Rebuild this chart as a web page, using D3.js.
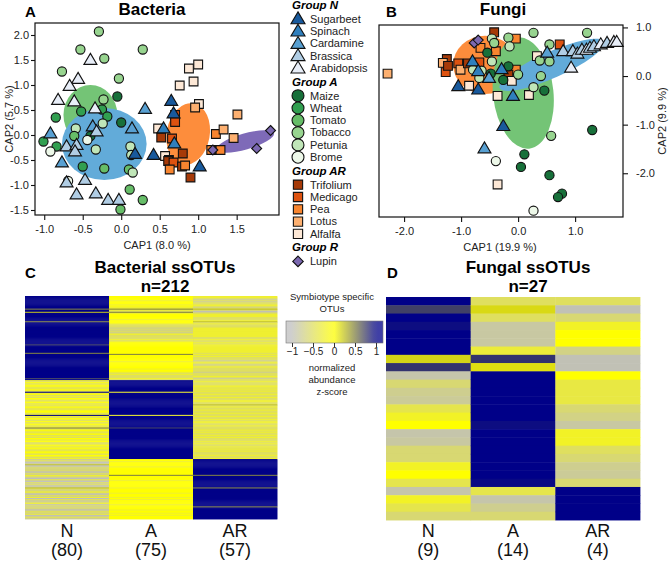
<!DOCTYPE html>
<html><head><meta charset="utf-8">
<script src="https://cdn.jsdelivr.net/npm/d3@7"></script>
<style>body{margin:0;background:#fff} svg{display:block} text{font-family:"Liberation Sans",Arial,Helvetica,sans-serif}</style>
</head><body><svg id="c" width="669" height="563"></svg>
<script>
// ---------- DATA ----------
const hostCodes = ["SB","SP","CA","BR","AT","MA","WH","TO","TB","PE","BO","TR","ME","PA","LO","AL","LU"];
const hostNames = ["Sugarbeet","Spinach","Cardamine","Brassica","Arabidopsis","Maize","Wheat","Tomato","Tobacco","Petunia","Brome","Trifolium","Medicago","Pea","Lotus","Alfalfa","Lupin"];
const hostGroup = ["N","N","N","N","N","A","A","A","A","A","A","AR","AR","AR","AR","AR","R"];
const hostFill = ["#18599c","#2f7fbd","#58a0d2","#b0cde4","#e8eef8",
                  "#17703a","#319f50","#66bd68","#97d48f","#c0e6b8","#edf8e9",
                  "#a63a08","#dd5210","#f8852f","#fdb070","#fde8d6","#7b68b0"];
const groupKeys = ["N","A","AR","R"];
const groupLabels = ["Group N","Group A","Group AR","Group R"];
const groupShape = {N:"triangle",A:"circle",AR:"square",R:"diamond"};
const ellipseFill = {N:"#62abd9",A:"#74c476",AR:"#fd8d3c",R:"#7e6ab8"};

// Panel A (bacteria) points: [host, CAP1, CAP2]
const bactPoints = [
 ["AL",0.88,1.33],["AL",1.00,1.41],["AL",0.94,1.07],["AL",0.76,0.99],["AL",1.01,0.62],["LO",0.96,0.55],["LO",1.51,0.41],
 ["AL",0.48,0.13],["TR",0.52,-0.05],["ME",0.70,0.40],["ME",0.70,0.26],["ME",0.66,-0.07],["PA",1.23,0.02],["LO",1.33,0.11],
 ["LO",1.46,-0.06],["PA",1.17,-0.30],["PA",1.29,-0.30],["AL",0.57,-0.42],["PA",0.62,-0.50],["TR",0.61,-0.52],["TR",0.80,-0.37],
 ["ME",0.68,-0.55],["TR",0.79,-0.63],["PA",0.83,-0.61],["PA",0.63,-0.69],["TR",0.90,-0.85],
 ["TB",-0.29,2.07],["TB",-0.53,1.71],["TB",-0.22,1.53],["TB",0.28,1.71],["TB",-0.77,1.27],["TB",-0.03,1.13],["TB",-0.23,0.71],
 ["MA",-0.05,0.77],["WH",-0.52,0.47],["WH",-0.25,0.51],["WH",-0.85,0.35],["WH",-0.18,0.37],["PE",-0.24,0.23],["MA",0.00,0.25],
 ["PE",-0.59,0.13],["TO",-0.61,-0.02],["MA",-0.40,-0.02],["BO",-0.44,-0.10],["WH",-1.01,-0.13],["WH",-0.84,-0.23],["BO",-0.92,-0.33],
 ["PE",-0.33,-0.29],["PE",0.12,-0.23],["PE",0.13,-0.40],["WH",-0.50,-0.63],["TO",-0.22,-0.67],["TO",0.10,-0.69],["PE",0.15,-0.75],
 ["BO",-0.69,-0.92],["TO",0.11,-1.09],["TO",0.28,-1.30],["TO",-0.01,-1.49],
 ["AT",-0.40,1.50],["AT",-0.56,1.12],["AT",-0.67,0.98],["AT",-0.82,0.70],["AT",-0.61,0.67],["AT",-0.34,0.53],["CA",-0.37,0.17],
 ["BR",-0.32,0.07],["CA",-0.92,0.03],["CA",0.14,0.13],["SB",0.18,-0.38],["CA",0.31,0.52],["SB",0.65,0.68],["SB",0.68,0.43],
 ["SP",0.55,0.13],["SP",0.69,-0.17],["SB",0.42,-0.40],["SB",1.02,-0.63],["BR",-0.71,-0.23],["BR",-0.58,-0.20],["BR",-0.60,-0.33],
 ["CA",-0.77,-0.55],["BR",-0.71,-0.95],["BR",-0.47,-0.90],["BR",-0.58,-1.19],["BR",-0.33,-1.17],["BR",-0.17,-1.30],["BR",-0.03,-1.30],
 ["LU",1.19,-0.30],["LU",1.76,-0.27],["LU",1.94,0.09]
];
// Panel B (fungi) points
const fungiPoints = [
 ["LO",-2.29,0.05],["TR",-0.42,0.90],["PA",-0.04,0.77],["TR",-1.25,0.35],["LO",-1.32,0.27],["ME",-1.27,0.08],["TR",-1.23,0.21],
 ["ME",-1.05,0.26],["LO",-1.01,0.13],["TR",-0.88,0.26],["ME",-0.68,0.28],["PA",-0.66,0.58],["PA",-0.39,0.51],["PA",-0.04,0.13],
 ["TR",-0.17,0.03],["AL",-0.11,-0.10],["AL",-0.86,-0.20],["AL",-0.36,-0.41],["AL",0.19,-0.39],["AL",0.33,0.41],["ME",0.73,0.65],
 ["AL",-0.36,-2.23],
 ["TB",0.27,0.89],["TB",1.21,0.89],["TB",-0.17,0.79],["PE",-0.46,0.77],["TB",-0.42,0.68],["TB",0.55,0.65],["TB",0.38,0.32],
 ["TB",0.55,0.30],["TB",0.40,0.00],["MA",-0.54,0.48],["PE",-0.46,0.30],["PE",-0.79,0.13],["PE",-0.64,0.11],["PE",-0.68,-0.04],
 ["MA",-0.48,0.05],["PE",-0.15,0.61],["MA",-0.17,0.20],["MA",-0.26,-0.08],["TB",0.00,0.03],["PE",0.27,-0.23],["MA",0.46,-0.30],
 ["MA",1.30,-1.11],["TB",0.58,-1.23],["MA",0.11,-1.61],["BO",-0.39,-1.75],["MA",0.05,-1.87],["MA",0.55,-2.04],["MA",0.77,-2.42],
 ["MA",0.70,-2.49],["BO",0.27,-2.77],
 ["SB",-1.05,-0.21],["SB",-0.70,-0.28],["SP",-0.80,0.30],["SP",-0.70,0.10],["CA",-0.51,-0.04],["SP",-0.29,0.14],["SP",-0.09,-0.41],
 ["SB",-0.26,-1.03],["CA",-0.59,-1.49],["CA",0.51,0.48],["BR",0.79,0.51],["AT",0.93,0.17],["BR",0.96,0.51],["BR",1.04,0.46],
 ["BR",1.12,0.54],["AT",1.20,0.54],["BR",1.26,0.58],["BR",1.33,0.61],["AT",1.45,0.65],["BR",1.56,0.68],["AT",1.68,0.70],["AT",1.73,0.70],
 ["LU",-0.77,0.68],["LU",-0.70,0.74]
];
// ellipses: [group, cx, cy, rx, ry (data units), rotation deg]
const bactEllipses = [["AR",0.87,0.02,0.28,0.62,10],["A",-0.40,0.40,0.35,0.60,0],["N",-0.22,-0.18,0.55,0.72,0],["R",1.61,-0.13,0.39,0.16,-16]];
const fungiEllipses = [["AR",-0.58,0.23,0.56,0.60,0],["A",0.09,-0.35,0.53,1.15,-6],["N",0.59,0.23,1.00,0.27,-24]];

const bactXTicks = [-1.0,-0.5,0.0,0.5,1.0,1.5];
const bactYTicks = [-1.5,-1.0,-0.5,0.0,0.5,1.0,1.5,2.0];
const fungiXTicks = [-2.0,-1.0,0.0,1.0];
const fungiYTicks = [-2.0,-1.0,0.0,1.0];

// heatmap levels: digit d -> z = (d-4)/4
const heatColumns = ["N","A","AR"];
const bactCounts = [80,75,57];
const bactN = ["8888888888","8868858888","8888688888","8888888888","8888887888","8888688888","8888888888","8888888878",
 "3242343234","2834232432","3423243234","4238324324","2342362432","3423243342","2342432343","24323",
 "1210150121","2102132102","1021201521","2310213021","1230212102","2130121"].join("");
const bactA = ["4444344434","3363263444","4434443222","1212123222","2323444444","4444464444","4434444443","4432322232",
 "8888888888","8388888888","8888888888","8883888888","8888878888","8888888888","8888888888","88888",
 "4434444344","4444464444","3444444344","4434443434","4443444434","4343444"].join("");
const bactAR = ["3321212233","1252012333","2223523222","3333333332","2322323333","3333232322","2123212322","2212223212",
 "2322233232","3223223223","3225232232","2322322323","3223222323","2232322232","3223232322","23223",
 "8888888888","8888868888","8888888688","8888888888","8888868888","8888888"].join("");
const fungiCounts = [9,14,4];
const fungiN = [1,0.75,1,0.95,1,1,1,0.17,0.8,-0.9,-0.6,-0.75,-0.8,-0.4,-0.2,0,-0.9,-0.85,-0.6,-0.6,-0.2,0,-0.4,-0.9,-0.2,-0.4,-0.6];
const fungiA = [-0.5,0.15,-0.5,-0.85,-0.85,-0.85,-0.3,0.8,0.12,1,1,1,1,1,1,0.95,1,1,1,1,1,1,0.97,-0.4,-0.9,-0.75,-0.6];
const fungiAR = [-0.5,-0.95,-0.6,-0.2,0,0,-0.7,-0.95,-0.95,0,-0.35,-0.35,-0.35,-0.6,-0.7,-0.85,-0.2,-0.2,-0.5,-0.6,-0.75,-0.8,-0.6,1,1,1,1];
const keyTicks = [-1,-0.5,0,0.5,1];

// ---------- DRAW ----------
const svg = d3.select("#c");
const heatColor = d3.scaleLinear().domain([-1,0,1]).range(["#bebebe","#ffff00","#000088"]).clamp(true);
const hostIdx = c => hostCodes.indexOf(c);

function shapePath(shape, k) {
  if (shape==="triangle") { const w=13*k, h=11*k; return `M0,${-h*0.6}L${w/2},${h*0.4}L${-w/2},${h*0.4}Z`; }
  if (shape==="square") { const s=8.8*k/2; return `M${-s},${-s}H${s}V${s}H${-s}Z`; }
  if (shape==="diamond") { const s=5*k; return `M0,${-s}L${s},0L0,${s}L${-s},0Z`; }
  const r=4.6*k; return `M${r},0A${r},${r} 0 1,1 ${-r},0A${r},${r} 0 1,1 ${r},0Z`;
}

function fmt1(d){ return d.toFixed(1); }

function scatter(cfg) {
  const g = svg.append("g");
  const x = d3.scaleLinear().domain(cfg.xd).range([cfg.x0, cfg.x1]);
  const y = d3.scaleLinear().domain(cfg.yd).range([cfg.y1, cfg.y0]);
  cfg.ellipses.forEach(e => {
    const cx = x(e[1]), cy = y(e[2]);
    const rx = Math.abs(x(e[1]+e[3])-cx), ry = Math.abs(y(e[2]+e[4])-cy);
    g.append("ellipse").attr("cx",0).attr("cy",0).attr("rx",rx).attr("ry",ry)
      .attr("transform",`translate(${cx},${cy}) rotate(${e[5]})`).attr("fill",ellipseFill[e[0]]);
  });
  const order = ["AR","A","N","R"];
  order.forEach(gr => {
    cfg.points.filter(p => hostGroup[hostIdx(p[0])]===gr).forEach(p => {
      const i = hostIdx(p[0]);
      g.append("path").attr("d",shapePath(groupShape[gr],1))
        .attr("transform",`translate(${x(p[1])},${y(p[2])})`)
        .attr("fill",hostFill[i]).attr("stroke","#111").attr("stroke-width",1.1);
    });
  });
  g.append("rect").attr("x",cfg.x0).attr("y",cfg.y0).attr("width",cfg.x1-cfg.x0).attr("height",cfg.y1-cfg.y0)
    .attr("fill","none").attr("stroke","#111").attr("stroke-width",1.2);
  const ax = g.append("g").attr("transform",`translate(0,${cfg.y1})`)
    .call(d3.axisBottom(x).tickValues(cfg.xt).tickFormat(fmt1).tickSize(5).tickSizeOuter(0).tickPadding(5));
  const yAx = cfg.yRight ? d3.axisRight(y) : d3.axisLeft(y);
  const ay = g.append("g").attr("transform",`translate(${cfg.yRight?cfg.x1:cfg.x0},0)`)
    .call(yAx.tickValues(cfg.yt).tickFormat(fmt1).tickSize(cfg.yRight?5:4).tickSizeOuter(0).tickPadding(cfg.yRight?8:2));
  [ax,ay].forEach(a => { a.select(".domain").remove();
    a.selectAll("line").attr("stroke","#111").attr("stroke-width",1.1);
    a.selectAll("text").attr("font-size",11).attr("fill","#222").attr("font-family",'"Liberation Sans",Arial,sans-serif'); });
  g.append("text").attr("x",cfg.xlx).attr("y",cfg.xly).attr("text-anchor","middle").attr("font-size",11).attr("fill","#222").text(cfg.xlab);
  g.append("text").attr("transform",`translate(${cfg.ylx},${(cfg.y0+cfg.y1)/2}) rotate(-90)`).attr("text-anchor","middle")
    .attr("dy","0.35em").attr("font-size",11).attr("fill","#222").text(cfg.ylab);
  g.append("text").attr("x",cfg.tx).attr("y",15).attr("text-anchor","middle").attr("font-size",17).attr("font-weight","bold").text(cfg.title);
  g.append("text").attr("x",cfg.lx).attr("y",17).attr("font-size",15).attr("font-weight","bold").text(cfg.letter);
}

scatter({xd:[-1.12,2.05], yd:[-1.6,2.24], x0:35, x1:279, y0:23, y1:215, xt:bactXTicks, yt:bactYTicks,
  points:bactPoints, ellipses:bactEllipses, yRight:false, xlab:"CAP1 (8.0 %)", xlx:157, xly:249,
  ylab:"CAP2 (5.7 %)", ylx:9, title:"Bacteria", tx:152, letter:"A", lx:25});
scatter({xd:[-2.44,1.84], yd:[-2.9,1.05], x0:379, x1:623, y0:25, y1:217, xt:fungiXTicks, yt:fungiYTicks,
  points:fungiPoints, ellipses:fungiEllipses, yRight:true, xlab:"CAP1 (19.9 %)", xlx:500, xly:251,
  ylab:"CAP2 (9.9 %)", ylx:662, title:"Fungi", tx:503, letter:"B", lx:386});

// legend
(function(){
  const g = svg.append("g");
  let yy = 5;
  groupKeys.forEach((gk, gi) => {
    g.append("text").attr("x",292).attr("y",yy).attr("dy","0.35em").attr("font-size",11.5)
      .attr("font-weight","bold").attr("font-style","italic").text(groupLabels[gi]);
    yy += 14;
    const members = hostNames.filter((n,i) => hostGroup[i]===gk);
    members.forEach((n, j) => {
      const i = hostNames.indexOf(n);
      const k = gk==="A" ? 1.3 : (gk==="N" ? 1.08 : 1.05);
      g.append("path").attr("d",shapePath(groupShape[gk],k)).attr("transform",`translate(298,${yy})`)
        .attr("fill",hostFill[i]).attr("stroke","#111").attr("stroke-width",1.1);
      g.append("text").attr("x",310).attr("y",yy).attr("dy","0.35em").attr("font-size",11).attr("fill","#222").text(n);
      if (j < members.length-1) yy += 12.3;
    });
    yy += 13.5;
  });
})();

// heatmaps
function heatmap(cfg) {
  const g = svg.append("g");
  const n = cfg.cols[0].length;
  const xb = d3.scaleBand().domain(heatColumns).range([cfg.x0,cfg.x1]);
  const yb = d3.scaleBand().domain(d3.range(n)).range([cfg.y0,cfg.y1]);
  cfg.cols.forEach((col, ci) => {
    col.forEach((v, ri) => {
      g.append("rect").attr("x",xb(heatColumns[ci])).attr("y",yb(ri)).attr("width",xb.bandwidth()+0.4)
        .attr("height",yb.bandwidth()+0.45).attr("fill",heatColor(v));
    });
    const cx = xb(heatColumns[ci]) + xb.bandwidth()/2;
    g.append("text").attr("x",cx).attr("y",537).attr("text-anchor","middle").attr("font-size",18).attr("fill","#111").text(heatColumns[ci]);
    g.append("text").attr("x",cx).attr("y",556).attr("text-anchor","middle").attr("font-size",18).attr("fill","#111").text(`(${cfg.counts[ci]})`);
  });
  g.append("text").attr("x",cfg.tx).attr("y",273).attr("text-anchor","middle").attr("font-size",17).attr("font-weight","bold").text(cfg.title);
  g.append("text").attr("x",cfg.tx).attr("y",292).attr("text-anchor","middle").attr("font-size",17).attr("font-weight","bold").text(`n=${n}`);
  g.append("text").attr("x",cfg.lx).attr("y",278).attr("font-size",15).attr("font-weight","bold").text(cfg.letter);
}
const lv = s => s.split("").map(c => (+c - 4)/4);
heatmap({cols:[lv(bactN),lv(bactA),lv(bactAR)], counts:bactCounts, x0:25, x1:277, y0:296, y1:519,
  title:"Bacterial ssOTUs", tx:165, letter:"C", lx:25});
heatmap({cols:[fungiN,fungiA,fungiAR], counts:fungiCounts, x0:386, x1:640, y0:297, y1:520,
  title:"Fungal ssOTUs", tx:528, letter:"D", lx:387});

// color key
(function(){
  const g = svg.append("g");
  const kx = d3.scaleLinear().domain([-1,1]).range([292,376]);
  const bx0 = 286, bx1 = 383, by0 = 321, by1 = 343;
  const grad = svg.append("defs").append("linearGradient").attr("id","kg").attr("x1","0").attr("x2","1").attr("y1","0").attr("y2","0");
  d3.range(0,1.0001,0.05).forEach(t => {
    const v = kx.invert(bx0 + t*(bx1-bx0));
    grad.append("stop").attr("offset",t).attr("stop-color",heatColor(v));
  });
  g.append("rect").attr("x",bx0).attr("y",by0).attr("width",bx1-bx0).attr("height",by1-by0).attr("fill","url(#kg)").attr("opacity",0.75);
  g.append("rect").attr("x",bx0).attr("y",by0).attr("width",bx1-bx0).attr("height",by1-by0).attr("fill","none").attr("stroke","#777").attr("stroke-width",0.6);
  const ax = g.append("g").attr("transform",`translate(0,${by1})`)
    .call(d3.axisBottom(kx).tickValues(keyTicks).tickFormat(d => d===0?"0":String(d).replace("-","\u2212")).tickSize(4).tickSizeOuter(0).tickPadding(1));
  ax.select(".domain").remove();
  ax.selectAll("line").attr("stroke","#333");
  ax.selectAll("text").attr("font-size",10).attr("fill","#222").attr("font-family",'"Liberation Sans",Arial,sans-serif');
  const t = (txt, y) => g.append("text").attr("x",332).attr("y",y).attr("text-anchor","middle").attr("font-size",9.5).attr("fill","#222").text(txt);
  t("Symbiotype specific",300); t("OTUs",312);
  t("normalized",371); t("abundance",383); t("z-score",395);
})();
</script></body></html>
